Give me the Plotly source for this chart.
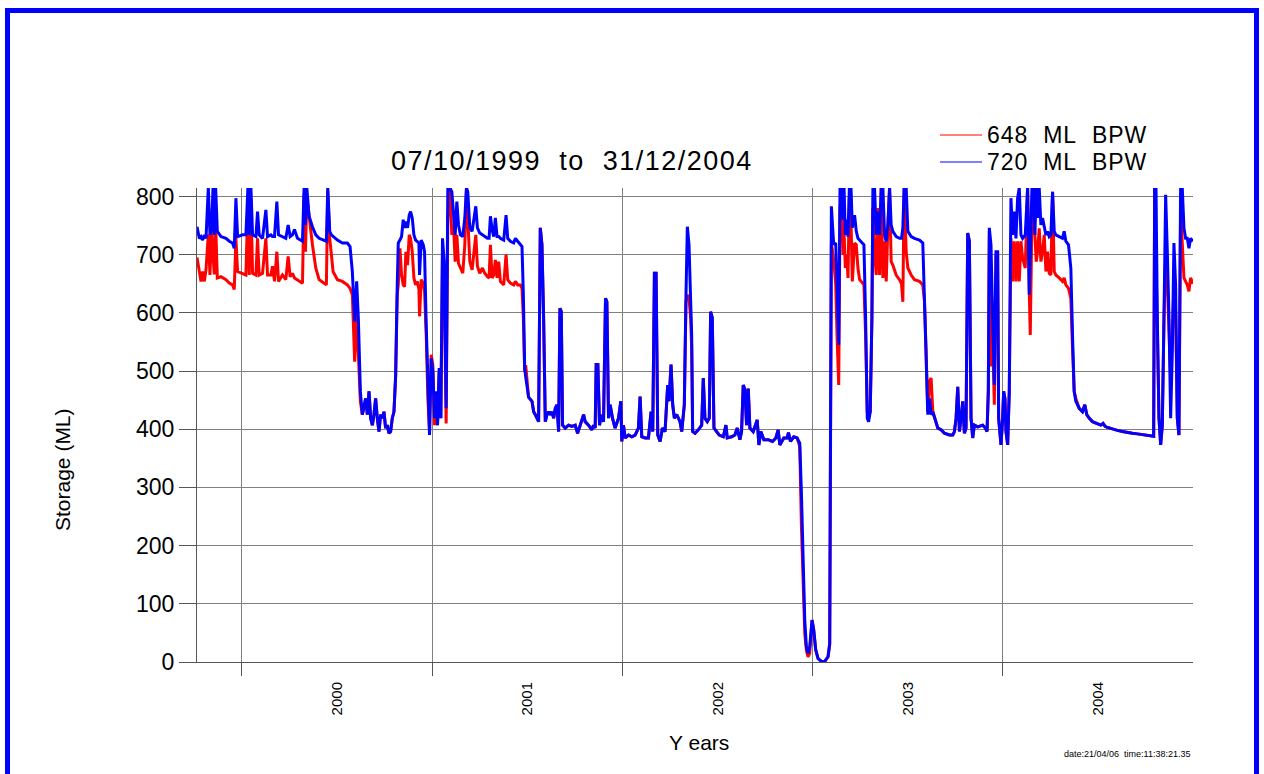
import pandas as pd
import plotly.graph_objects as go

# Daily storage record, sampled at the turning points of each series.
start = pd.Timestamp("1999-10-07")
end = pd.Timestamp("2004-12-31")

# days since start of record
day = [
    0, 4.5, 7.7, 10.9, 14.1, 17.3, 21.7, 24.9, 28.1, 30.7, 33.2, 35.8, 39.0, 46.0, 55.6, 62.0,
    68.3, 71.5, 74.7, 77.9, 87.5, 93.9, 97.7, 100.3, 103.5, 106.7, 113.1, 116.2, 119.4, 125.8,
    132.2, 135.4, 141.8, 145.0, 148.8, 153.3, 156.5, 164.1, 170.5, 175.0, 178.8, 183.3, 187.1,
    192.9, 202.5, 205.6, 208.2, 210.8, 215.2, 221.6, 228.0, 234.4, 244.0, 248.4, 251.0, 254.8,
    258.0, 261.2, 269.5, 279.1, 288.7, 293.8, 298.2, 302.7, 306.5, 309.7, 313.6, 317.4,
    323.8, 327.0, 330.2, 333.4, 336.6, 339.7, 342.9, 346.1, 349.3, 352.5, 355.7, 358.9, 362.1,
    365.3, 368.5, 371.7, 374.9, 378.1, 381.3, 384.4, 386.4, 389.6, 392.7, 395.9, 398.5, 401.0,
    404.2, 407.4, 410.0, 413.2, 416.4, 419.6, 422.8, 426.0, 427.2, 430.4, 434.3, 436.8, 440.0,
    443.2, 446.4, 449.6, 452.8, 456.0, 459.2, 461.7, 464.9, 468.1, 471.3, 474.5, 478.3, 481.5,
    485.3, 489.2, 492.4, 495.6, 498.8, 502.0, 505.8, 510.2, 514.1, 517.3, 519.8, 523.7, 528.1,
    532.0, 535.2, 538.3, 542.8, 547.9, 552.4, 557.5, 560.7, 563.3, 566.5, 569.6, 572.8, 576.0,
    579.2, 582.4, 588.8, 593.3, 596.5, 601.6, 608.0, 611.2, 615.6, 620.7, 623.9, 626.5, 629.0,
    631.0, 634.0, 636.5,
    643.1, 646.3, 649.5, 652.6, 655.8, 659.0, 662.2, 665.4, 668.6, 671.8, 675.0, 678.2, 681.4,
    684.6, 687.8, 691.0, 694.2, 696.7, 699.3, 701.8, 706.9, 713.3, 719.7, 726.1, 730.6, 735.7,
    742.1, 745.2, 751.6, 758.0, 761.2, 764.4, 766.3, 769.5, 772.7, 775.9, 780.4, 784.2, 786.8,
    790.0, 793.1, 797.6, 802.7, 809.1, 813.6, 815.5, 818.7, 821.9, 828.3, 834.7, 841.0, 847.4,
    850.6, 853.8, 860.2, 866.6, 871.7, 874.9, 878.1, 881.3, 884.5, 889.0, 893.4, 898.5, 903.6,
    906.2, 910.0, 913.2, 916.4, 920.9, 924.1, 927.3, 930.5, 935.5, 938.7, 941.3, 944.5, 947.7,
    949.6, 951.5,
    956.0, 962.4, 968.8, 971.9, 975.1, 979.6, 983.4, 986.0, 989.2, 992.4, 997.5, 1002.6, 1010.3,
    1015.4, 1017.9, 1026.2, 1032.6, 1037.1, 1042.2, 1045.4, 1048.6, 1051.8, 1055.0, 1058.2,
    1061.4, 1067.7, 1075.4, 1078.6, 1082.4, 1088.2, 1096.5, 1104.8, 1111.2, 1115.6, 1118.8,
    1126.5, 1132.9, 1135.4, 1139.3, 1145.6, 1152.0, 1155.0, 1157.1, 1160.3, 1163.5, 1166.7,
    1169.8, 1173.0, 1176.2, 1180.7, 1183.9, 1187.7, 1192.2, 1198.6, 1205.0, 1211.4, 1214.6,
    1217.8, 1222.3, 1226.1, 1228.7, 1231.9, 1234.4, 1237.6, 1240.2, 1242.1, 1244.6, 1247.2,
    1249.7, 1252.3, 1255.5, 1258.0,
    1262.4, 1265.6, 1268.8, 1272.0, 1275.2, 1280.3, 1283.5, 1286.7, 1289.2, 1292.4, 1295.6,
    1297.5, 1300.7, 1303.9, 1307.1, 1310.3, 1313.5, 1316.7, 1319.9, 1323.1, 1326.3, 1329.5,
    1332.6, 1335.8, 1342.2, 1348.6, 1352.4, 1355.0, 1357.5, 1361.4, 1364.6, 1371.0, 1377.3,
    1386.9, 1393.3, 1396.5, 1399.7, 1402.9, 1406.1, 1409.3, 1412.5, 1415.7, 1422.1, 1428.4,
    1434.8, 1444.4, 1450.8, 1454.0, 1457.2, 1460.4, 1463.6, 1466.8, 1470.0, 1473.1, 1476.3,
    1479.5, 1482.7, 1485.9, 1489.1, 1492.3, 1498.7, 1508.3, 1513.4, 1516.6, 1519.1, 1521.0,
    1524.2, 1527.4, 1530.6, 1533.8, 1537.0, 1538.9, 1541.5, 1543.4, 1546.6, 1548.5, 1551.0,
    1553.0, 1556.2, 1559.3, 1562.5, 1565.7, 1568.9, 1572.1, 1575.3, 1578.5, 1581.7,
    1584.9, 1590.0, 1594.5, 1597.7, 1599.6, 1602.8, 1606.0, 1608.5, 1611.1, 1613.6, 1616.8,
    1620.0, 1623.2, 1626.4, 1629.6, 1632.8, 1636.0, 1639.2, 1642.4, 1645.6, 1648.7, 1655.1,
    1661.5, 1664.7, 1667.9, 1673.0, 1677.5, 1680.7, 1683.9, 1687.1, 1693.5, 1699.8, 1704.3,
    1708.1, 1712.6, 1719.0, 1728.6, 1735.0, 1739.4, 1743.3, 1747.7, 1757.3, 1766.9, 1776.5,
    1786.0, 1795.6, 1805.2, 1814.8, 1824.4, 1834.0, 1836.5, 1838.4, 1841.0, 1843.5, 1846.7,
    1849.9, 1853.1, 1856.3, 1859.5, 1862.7, 1865.9, 1869.1, 1872.3, 1875.4, 1878.6, 1881.8,
    1885.0, 1888.2, 1891.4, 1894.6, 1897.8, 1901.0, 1904.2, 1907.4, 1911.9,
]

# storage (ML) with a 720 ML bulk potable water allowance
bpw_720 = [
    748, 728, 731, 725, 734, 728, 815, 734, 745, 815, 734, 815, 740, 731, 728, 723,
    720, 711, 797, 731, 734, 734, 815, 734, 815, 734, 731, 774, 734, 728,
    777, 731, 734, 731, 731, 791, 734, 731, 728, 751, 731, 734, 743,
    728, 723, 815, 751, 815, 766, 748, 734, 728, 725, 723, 815, 740,
    734, 731, 725, 720, 720, 714, 671, 585, 654, 591, 465, 425,
    453, 425, 465, 419, 407, 425, 453, 419, 396, 425, 419, 430, 402,
    407, 393, 396, 419, 430, 491, 648, 720, 725, 731, 760, 746, 757,
    746, 768, 774, 763, 734, 725, 723, 720, 665, 725, 717, 705, 579,
    465, 390, 522, 499, 419, 465, 407, 505, 419, 728, 688, 436, 815,
    815, 808, 763, 734, 791, 751, 734, 731, 763, 815, 808, 746, 740,
    763, 783, 746, 737, 734, 731, 728, 728, 766, 743, 731, 763, 731,
    731, 728, 725, 768, 728, 723, 720, 728, 723, 717, 714, 631, 505,
    490, 470, 455,
    448, 430, 425, 419, 413, 746, 717, 591, 413, 425, 430, 425, 430,
    419, 436, 442, 396, 608, 602, 407, 402, 407, 405, 407, 393, 407,
    425, 413, 407, 399, 407, 402, 511, 511, 407, 425, 413, 625, 619,
    419, 442, 419, 402, 419, 448, 379, 407, 385, 390, 387, 390, 402,
    456, 387, 385, 385, 430, 396, 668, 668, 390, 379, 402, 396, 476,
    448, 511, 442, 419, 425, 419, 413, 396, 442, 631, 748, 717, 619,
    562, 396,
    393, 399, 407, 488, 419, 413, 419, 602, 591, 402, 396, 390, 387,
    407, 385, 387, 390, 402, 382, 396, 476, 468, 407, 470,
    402, 396, 416, 373, 396, 382, 382, 379, 385, 399, 373,
    385, 385, 394, 379, 387, 385, 381, 376, 290, 175, 72,
    26, 15, 26, 72, 55, 21, 6, 1, 1, 9, 32,
    783, 717, 720, 648, 545, 815, 815, 760, 815, 734, 760,
    731, 815, 815, 746,
    768, 740, 728, 725, 723, 717, 591, 419, 413, 430, 591,
    815, 815, 734, 774, 734, 815, 815, 734, 723, 751, 815,
    751, 740, 731, 728, 728, 746, 815, 815, 740, 731, 728,
    725, 720, 631, 534, 425, 453, 425, 430, 419, 402, 399,
    393, 390, 390, 396, 419, 473, 396, 419, 448, 393, 402,
    737, 723, 419, 385, 407, 404, 407, 402, 396, 465, 746,
    717, 591, 476, 705, 705, 419, 396, 373, 419, 465, 453,
    396, 373, 465, 797, 734, 774, 728, 797, 815, 734,
    728, 734, 815, 631, 700, 815, 815, 734, 815, 763, 815,
    751, 763, 746, 734, 740, 731, 734, 808, 740, 734, 731,
    728, 740, 723, 717, 677, 562, 465, 448, 436, 430, 442,
    425, 419, 413, 410, 407, 410, 405, 403, 400, 398, 396,
    394, 393, 392, 391, 390, 388, 388, 815, 815, 591, 419,
    373, 407, 591, 803, 705, 591, 419, 534, 720, 648, 419,
    390, 815, 815, 746, 728, 728, 711, 728, 723,
]

# storage (ML) with a 648 ML bulk potable water allowance
bpw_648 = [
    695, 671, 654, 671, 654, 674, 735, 665, 746, 700, 666, 752, 660, 662, 657, 651,
    648, 640, 728, 671, 668, 665, 790, 665, 795, 668, 665, 728, 665, 668,
    728, 665, 665, 680, 654, 705, 654, 665, 657, 697, 662, 668, 660,
    657, 651, 805, 705, 800, 763, 717, 677, 657, 651, 648, 810, 728,
    700, 671, 657, 654, 648, 642, 631, 516, 597, 516, 448, 425,
    453, 425, 465, 419, 407, 425, 453, 419, 396, 425, 419, 430, 402,
    407, 393, 396, 419, 430, 491, 631, 648, 711, 665, 648, 645, 705,
    682, 734, 728, 705, 660, 648, 654, 640, 594, 657, 651, 637, 562,
    453, 396, 528, 510, 407, 453, 407, 499, 419, 705, 660, 410, 763,
    815, 734, 751, 688, 734, 685, 677, 668, 717, 815, 763, 688, 674,
    705, 734, 680, 668, 677, 668, 662, 660, 717, 660, 665, 691, 660,
    688, 654, 648, 700, 657, 651, 648, 654, 648, 648, 642, 591, 499,
    510, 470, 455,
    448, 430, 425, 419, 413, 746, 717, 591, 413, 425, 430, 425, 430,
    419, 436, 442, 396, 608, 602, 407, 402, 407, 405, 407, 393, 407,
    425, 413, 407, 399, 407, 402, 511, 511, 407, 425, 413, 625, 619,
    419, 442, 419, 402, 419, 448, 379, 407, 385, 390, 387, 390, 402,
    456, 387, 385, 385, 430, 396, 668, 668, 390, 379, 402, 396, 476,
    448, 511, 442, 419, 425, 419, 413, 396, 442, 619, 631, 625, 591,
    540, 396,
    393, 399, 407, 488, 419, 413, 419, 602, 591, 402, 396, 390, 387,
    407, 385, 387, 390, 402, 382, 396, 476, 468, 407, 470,
    402, 396, 416, 373, 396, 382, 382, 379, 385, 399, 373,
    385, 385, 394, 379, 387, 385, 378, 370, 233, 118, 49,
    20, 9, 15, 72, 55, 21, 6, 1, 1, 9, 30,
    720, 690, 650, 560, 476, 780, 810, 700, 740, 677, 700,
    660, 800, 760, 654,
    720, 717, 677, 657, 654, 648, 562, 430, 425, 430, 591,
    780, 705, 665, 780, 665, 815, 660, 723, 654, 751, 815,
    688, 682, 665, 657, 650, 619, 815, 705, 677, 665, 657,
    654, 648, 620, 534, 430, 482, 488, 430, 419, 402, 399,
    393, 390, 390, 396, 419, 473, 396, 419, 448, 393, 402,
    737, 723, 419, 385, 407, 404, 407, 402, 396, 465, 740,
    508, 560, 442, 700, 705, 419, 396, 373, 419, 465, 453,
    396, 373, 465, 728, 654, 723, 654, 723, 654, 723,
    694, 677, 815, 637, 562, 763, 770, 734, 688, 705, 745,
    688, 705, 734, 671, 705, 668, 665, 808, 671, 665, 660,
    654, 660, 648, 642, 625, 540, 465, 453, 436, 430, 442,
    425, 419, 413, 410, 407, 410, 405, 403, 400, 398, 396,
    394, 393, 392, 391, 390, 388, 388, 815, 700, 560, 420,
    373, 407, 591, 700, 650, 560, 488, 560, 648, 600, 420,
    390, 780, 720, 660, 654, 648, 637, 660, 650,
]

y_ticks = [0, 100, 200, 300, 400, 500, 600, 700, 800]
series_names = ["648\u00a0 ML\u00a0 BPW", "720\u00a0 ML\u00a0 BPW"]
title_text = "07/10/1999\u00a0 to\u00a0 31/12/2004"
footer_text = "date:21/04/06\u00a0 time:11:38:21.35"

dates = start + pd.to_timedelta(day, unit="D")

RED = "#ff0000"
BLUE = "#0000ff"
FONT = "Liberation Sans, Arial, sans-serif"

fig = go.Figure()
fig.add_trace(go.Scatter(x=dates, y=bpw_648, mode="lines", name=series_names[0],
                         line=dict(color=RED, width=3), showlegend=False))
fig.add_trace(go.Scatter(x=dates, y=bpw_720, mode="lines", name=series_names[1],
                         line=dict(color=BLUE, width=3), showlegend=False))

# plot frame in pixels
L, R, T, B = 197, 71, 188, 112
W, H = 1264 - L - R, 774 - T - B


def px(x):
    return (x - L) / W


def py(y):
    return (774 - B - y) / H


def spaced(text, gap):
    return f'<span style="letter-spacing:{gap}px">{text}</span>'


shapes = [
    # outer blue frame
    dict(type="rect", xref="paper", yref="paper", x0=px(7.5), x1=px(1256.5),
         y0=py(790), y1=py(10.5), line=dict(color=BLUE, width=5)),
    # legend keys
    dict(type="line", xref="paper", yref="paper", x0=px(940), x1=px(982),
         y0=py(135), y1=py(135), line=dict(color=RED, width=1)),
    dict(type="line", xref="paper", yref="paper", x0=px(940), x1=px(982),
         y0=py(162), y1=py(162), line=dict(color=BLUE, width=1)),
]

annotations = [
    dict(text=spaced(title_text, 1.5), x=px(572), y=py(161), xanchor="center",
         yanchor="middle", font=dict(size=27)),
    dict(text=spaced(series_names[0], 1), x=px(985), y=py(135), xanchor="left",
         yanchor="middle", font=dict(size=23)),
    dict(text=spaced(series_names[1], 1), x=px(985), y=py(162), xanchor="left",
         yanchor="middle", font=dict(size=23)),
    dict(text="Storage (ML)", x=px(62), y=py(470), textangle=-90, xanchor="center",
         yanchor="middle", font=dict(size=21)),
    dict(text="Y ears", x=px(699), y=py(742), xanchor="center", yanchor="middle",
         font=dict(size=21)),
    dict(text=footer_text, x=px(1062), y=py(754), xanchor="left", yanchor="middle",
         font=dict(size=9)),
]
for a in annotations:
    a.update(xref="paper", yref="paper", showarrow=False)

fig.update_layout(
    width=1264, height=774,
    margin=dict(l=L, r=R, t=T, b=B, autoexpand=False),
    paper_bgcolor="white", plot_bgcolor="white",
    font=dict(family=FONT, color="black"),
    shapes=shapes, annotations=annotations,
    showlegend=False,
)

fig.update_xaxes(
    type="date", range=[start, end],
    tick0="2000-01-01", dtick="M12", tickformat="%Y", ticklabelmode="period",
    tickangle=-90, tickfont=dict(size=15),
    ticks="outside", ticklen=13, tickcolor="#555555", tickwidth=1,
    showgrid=True, gridcolor="#808080", gridwidth=1,
    showline=True, linecolor="#555555", linewidth=1,
    zeroline=False,
)
fig.update_yaxes(
    range=[0, 814.5], tickvals=y_ticks, tickfont=dict(size=23),
    ticks="outside", ticklen=17, tickcolor="#555555", tickwidth=1,
    showgrid=True, gridcolor="#808080", gridwidth=1,
    showline=True, linecolor="#555555", linewidth=1,
    zeroline=False,
)

fig.write_html("out.html")
